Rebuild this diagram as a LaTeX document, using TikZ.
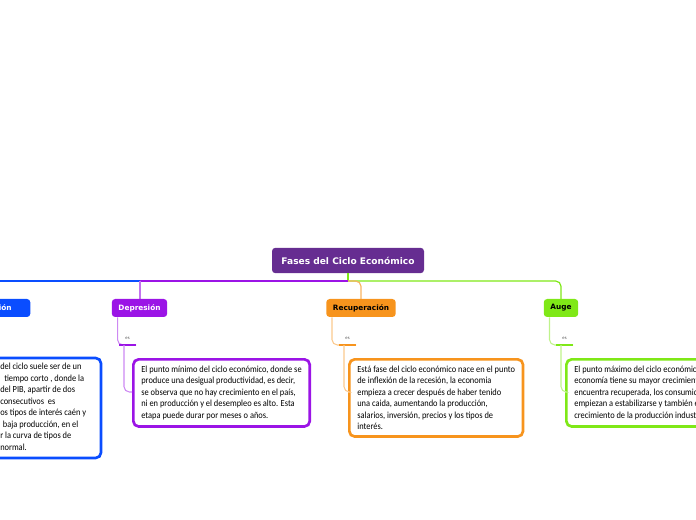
\documentclass[tikz,border=0pt]{standalone}
\usepackage{fontspec}
\setmainfont{Carlito}
\newfontfamily\bodyfont[FakeStretch=0.9]{Carlito}
\newfontfamily\hdfont{DejaVu Sans}
\definecolor{cRoot}{HTML}{662D91}
\definecolor{cBlue}{HTML}{0A4DFF}
\definecolor{cPurp}{HTML}{9B14E6}
\definecolor{cOrng}{HTML}{F7941D}
\definecolor{cLime}{HTML}{7FE817}
\begin{document}
\begin{tikzpicture}[x=0.75pt,y=-0.75pt,
  topic/.style={rounded corners=2.5pt,fill=#1,minimum height=13.5pt,inner xsep=5pt,font=\hdfont\bfseries\fontsize{5.5}{6}\selectfont},
  desc/.style={draw=#1,line width=2pt,rounded corners=4pt,fill=white,anchor=north west,align=left,inner xsep=6pt,inner ysep=5pt,font=\bodyfont\fontsize{7}{8.6}\selectfont},
  es/.style={font=\fontsize{3.5}{4}\selectfont,text=black!70},
  thin/.style={draw=#1!50,line width=0.8pt,rounded corners=4pt}]
\useasboundingbox (0,0) rectangle (696,520);
\clip (0,0) rectangle (696,520);
% root
\node[topic=cRoot,text=white,minimum height=19pt,minimum width=114pt,font=\hdfont\bfseries\fontsize{6.8}{8}\selectfont] (root) at (348,260.5) {Fases del Ciclo Económico};
% main line
\coordinate (j) at (348,281);
\draw[cLime,line width=0.9pt] (root.south) -- (j);
\draw[cBlue,line width=0.9pt] (0,281) -- (140,281);
\draw[cPurp,line width=0.9pt] (140,281) -- (j);
\draw[cLime,line width=0.9pt,rounded corners=4pt] (j) -- (561,281) -- (561,299);
\draw[cOrng!70,line width=0.9pt,rounded corners=4pt] (j) -- (361,281) -- (361,299);
\draw[cPurp!60,line width=0.9pt,rounded corners=4pt] (140,281) -- (140,299);
% topics
\node[topic=cBlue,text=white,minimum width=56pt] (rec) at (-7,308) {Recesión};
\node[topic=cPurp,text=white] (dep) at (139.5,308) {Depresión};
\node[topic=cOrng,text=black] (recu) at (361,308) {Recuperación};
\node[topic=cLime,text=black] (auge) at (561,308) {Auge};
% Depresion branch
\draw[thin=cPurp] (dep.south west)++(6,0) |- (136,345);
\draw[cPurp,line width=2pt] (119,345) -- (136,345) node[es,midway,above=0pt] {es};
\node[desc=cPurp] (dtx) at (132,358) {El punto mínimo del ciclo económico, donde se\\produce una desigual productividad, es decir,\\se observa que no hay crecimiento en el país,\\ni en producción y el desempleo es alto. Esta\\etapa puede durar por meses o años.};
\draw[thin=cPurp] (124,345) |- (dtx.west|-0,392);
% Recuperacion
\draw[thin=cOrng] (recu.south west)++(6,0) |- (356,345);
\draw[cOrng,line width=2pt] (339,345) -- (356,345) node[es,midway,above=0pt] {es};
\node[desc=cOrng] (rtx) at (348,358) {Está fase del ciclo económico nace en el punto\\de inflexión de la recesión, la economia\\empieza a crecer después de haber tenido\\una caida, aumentando la producción,\\salarios, inversión, precios y los tipos de\\interés.};
\draw[thin=cOrng] (344,345) |- (rtx.west|-0,392);
% Auge
\draw[thin=cLime] (auge.south west)++(6,0) |- (573,345);
\draw[cLime,line width=2pt] (556,345) -- (573,345) node[es,midway,above=0pt] {es};
\node[desc=cLime] (atx) at (565,358) {El punto máximo del ciclo económico, la\\economía tiene su mayor crecimiento, se\\encuentra recuperada, los consumidores\\empiezan a estabilizarse y también el\\crecimiento de la producción industrial.};
\draw[thin=cLime] (561,345) |- (atx.west|-0,392);
% Recesion text box (cut off)
\draw[cBlue,line width=2pt,rounded corners=4pt,fill=white] (-90,358) rectangle (101,458);
\node[anchor=north west,align=left,inner sep=0pt,font=\bodyfont\fontsize{7}{8.6}\selectfont] (ctx) at (0,363) {del ciclo suele ser de un\\\hspace{3pt}tiempo corto , donde la\\del PIB, apartir de dos\\consecutivos\ \ es\\os tipos de interés caén y\\\hspace{2pt}baja producción, en el\\r la curva de tipos de\\normal.};
\end{tikzpicture}
\end{document}
